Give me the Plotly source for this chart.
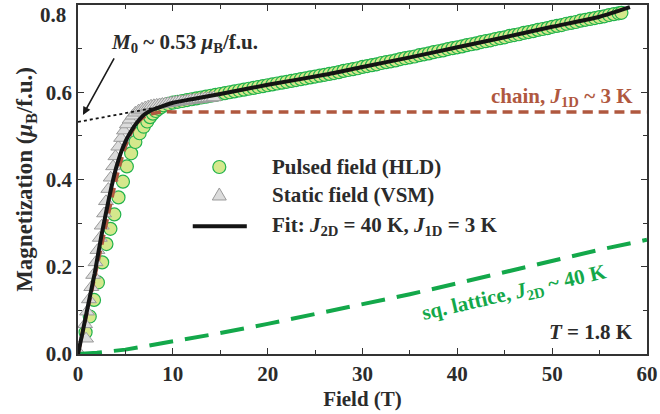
import plotly.graph_objects as go

# ---------------- data ----------------
pulsed_T = [0.8, 1.24, 1.69, 2.1, 2.55, 3.0, 3.42, 3.83, 4.27, 4.74, 5.15, 5.6, 6.05, 6.5, 6.93,
            7.3, 7.6, 7.9, 8.2, 8.5, 8.8,
            9.0, 9.5, 10.0, 10.5, 11.0, 11.5, 12.0, 12.5, 13.0, 13.5, 14.0, 14.5, 15.0, 15.5,
            16.0, 16.5, 17.0, 17.5, 18.0, 18.5, 19.0, 19.5, 20.0, 20.5, 21.0, 21.5, 22.0, 22.5,
            23.0, 23.5, 24.0, 24.5, 25.0, 25.5, 26.0, 26.5, 27.0, 27.5, 28.0, 28.5, 29.0, 29.5,
            30.0, 30.5, 31.0, 31.5, 32.0, 32.5, 33.0, 33.5, 34.0, 34.5, 35.0, 35.5, 36.0, 36.5,
            37.0, 37.5, 38.0, 38.5, 39.0, 39.5, 40.0, 40.5, 41.0, 41.5, 42.0, 42.5, 43.0, 43.5,
            44.0, 44.5, 45.0, 45.5, 46.0, 46.5, 47.0, 47.5, 48.0, 48.5, 49.0, 49.5, 50.0, 50.5,
            51.0, 51.5, 52.0, 52.5, 53.0, 53.5, 54.0, 54.5, 55.0, 55.5, 56.0, 56.5, 57.0, 57.3]
pulsed_M = [0.050, 0.086, 0.124, 0.164, 0.210, 0.252, 0.287, 0.320, 0.359, 0.395, 0.430, 0.460,
            0.486, 0.506, 0.521, 0.533, 0.543, 0.551, 0.557, 0.562, 0.566,
            0.570, 0.573, 0.576, 0.578, 0.580, 0.582, 0.584, 0.586, 0.588, 0.590, 0.592, 0.594,
            0.596, 0.598, 0.600, 0.602, 0.604, 0.606, 0.608, 0.610, 0.612, 0.614, 0.616, 0.618,
            0.620, 0.622, 0.624, 0.626, 0.628, 0.630, 0.632, 0.634, 0.636, 0.638, 0.640, 0.642,
            0.644, 0.646, 0.649, 0.651, 0.653, 0.655, 0.658, 0.660, 0.662, 0.664, 0.667, 0.669,
            0.671, 0.673, 0.676, 0.678, 0.680, 0.682, 0.685, 0.687, 0.689, 0.692, 0.694, 0.696,
            0.699, 0.701, 0.703, 0.705, 0.708, 0.710, 0.712, 0.715, 0.717, 0.719, 0.722, 0.724,
            0.726, 0.729, 0.731, 0.733, 0.736, 0.738, 0.740, 0.743, 0.745, 0.747, 0.750, 0.752,
            0.754, 0.757, 0.759, 0.761, 0.764, 0.766, 0.768, 0.770, 0.772, 0.774, 0.777, 0.779,
            0.781, 0.782]

static_T = [0.05, 0.85, 0.75, 0.95, 1.15, 1.4, 1.6, 1.85, 2.05, 2.3, 2.5, 2.75, 2.95, 3.2, 3.45,
            3.7, 3.95, 4.25, 4.55, 4.85, 5.15, 5.45, 5.75, 6.05, 6.4, 6.75, 7.1,
            7.4, 7.7, 8.0, 8.3, 8.6, 8.9, 9.2, 9.5, 9.8, 10.1, 10.4, 10.7, 11.0, 11.3, 11.6,
            11.9, 12.2, 12.5, 12.8, 13.1, 13.4, 13.7, 14.0, 14.3]
static_M = [0.005, 0.035, 0.068, 0.097, 0.125, 0.153, 0.181, 0.210, 0.238, 0.266, 0.294, 0.322,
            0.350, 0.378, 0.404, 0.430, 0.453, 0.475, 0.495, 0.512, 0.526, 0.537, 0.546, 0.553,
            0.558, 0.562, 0.565,
            0.567, 0.569, 0.570, 0.571, 0.572, 0.573, 0.574, 0.575, 0.576, 0.577, 0.578, 0.579,
            0.579, 0.580, 0.581, 0.582, 0.583, 0.583, 0.584, 0.585, 0.586, 0.586, 0.587, 0.588]

fit_T = [0, 0.5, 1.0, 1.76, 2.45, 3.31, 4.0, 4.5, 5.0, 5.5, 6.0, 6.5, 7.0, 7.5, 8.0, 9.0, 10.0,
         12.0, 15.0, 20.0, 26.0, 30.0, 35.0, 40.0, 45.0, 50.0, 55.0, 58.2]
fit_M = [0, 0.052, 0.105, 0.185, 0.269, 0.361, 0.425, 0.460, 0.487, 0.507, 0.524, 0.538, 0.549,
         0.556, 0.561, 0.569, 0.576, 0.584, 0.596, 0.617, 0.640, 0.658, 0.680, 0.703, 0.726,
         0.750, 0.773, 0.795]

chain_T = [0, 1.0, 2.0, 3.0, 4.0, 4.5, 5.0, 5.5, 6.0, 6.5, 7.0, 7.5, 8.0, 8.5, 9.0, 10.0, 60.0]
chain_M = [0, 0.100, 0.200, 0.300, 0.398, 0.440, 0.475, 0.502, 0.521, 0.535, 0.544, 0.549,
           0.552, 0.554, 0.555, 0.555, 0.555]

sq_T = [0, 2, 5, 10, 15, 20, 25, 30, 35, 40, 45, 50, 55, 60]
sq_M = [0, 0.003, 0.010, 0.028, 0.048, 0.069, 0.091, 0.113, 0.137, 0.162, 0.188, 0.214, 0.239, 0.262]

extrap_T = [0, 8.5]
extrap_M = [0.532, 0.566]

x_ticks = [0, 10, 20, 30, 40, 50, 60]
x_minor = [5, 15, 25, 35, 45, 55]
y_ticks = [0.0, 0.2, 0.4, 0.6, 0.8]
y_ticktext = ["0.0", "0.2", "0.4", "0.6", ""]
y_minor = [0.1, 0.3, 0.5, 0.7]

# ---------------- styling ----------------
FONT = "Liberation Serif"
DARK = "#2b2b2b"
GREEN = "#13a84a"
BROWN = "#b0583f"
FS = 21

fig = go.Figure()

fig.add_trace(go.Scatter(x=pulsed_T, y=pulsed_M, mode="markers", name="Pulsed field (HLD)",
                         marker=dict(symbol="circle", size=13, color="#d5e88c",
                                     line=dict(color="#22b34c", width=1.2))))
fig.add_trace(go.Scatter(x=static_T, y=static_M, mode="markers", name="Static field (VSM)",
                         marker=dict(symbol="triangle-up", size=13, color="#dcdcdc",
                                     line=dict(color="#9a9a9a", width=1))))
fig.add_trace(go.Scatter(x=sq_T, y=sq_M, mode="lines", name="sq. lattice",
                         line=dict(color=GREEN, width=4, dash="24px,12px")))
fig.add_trace(go.Scatter(x=chain_T, y=chain_M, mode="lines", name="chain",
                         line=dict(color=BROWN, width=3.5, dash="10px,6px", shape="spline",
                                   smoothing=0.6)))
fig.add_trace(go.Scatter(x=fit_T, y=fit_M, mode="lines", name="Fit",
                         line=dict(color="#141414", width=4, shape="spline", smoothing=0.6)))
fig.add_trace(go.Scatter(x=extrap_T, y=extrap_M, mode="lines", name="extrapolation",
                         line=dict(color="#141414", width=1.8, dash="dot")))

axis_common = dict(showline=True, linecolor="#333333", linewidth=1.5, mirror="ticks",
                   ticks="inside", ticklen=6, tickwidth=1.3, tickcolor="#333333",
                   showgrid=False, zeroline=False, ticklabeloverflow="allow",
                   tickfont=dict(family=FONT, size=FS, color=DARK, weight="bold"))

fig.update_layout(
    width=660, height=414,
    margin=dict(l=78, r=2, t=5, b=60),
    paper_bgcolor="white", plot_bgcolor="white",
    showlegend=False,
    xaxis=dict(range=[0, 60], tickmode="array", tickvals=x_ticks,
               minor=dict(tickmode="array", tickvals=x_minor, ticks="inside", ticklen=4,
                          tickwidth=1.2, tickcolor="#333333"),
               title=dict(text="Field (T)", standoff=6,
                          font=dict(family=FONT, size=FS, color=DARK, weight="bold")),
               **axis_common),
    yaxis=dict(range=[0, 0.8], tickmode="array", tickvals=y_ticks, ticktext=y_ticktext,
               minor=dict(tickmode="array", tickvals=y_minor, ticks="inside", ticklen=4,
                          tickwidth=1.2, tickcolor="#333333"),
               title=dict(text="Magnetization (<i>μ</i><sub>B</sub>/f.u.)", standoff=7,
                          font=dict(family=FONT, size=23, color=DARK, weight="bold")),
               **axis_common),
)

def txt(x, y, text, color=DARK, xanchor="center", angle=0, size=FS, yshift=0):
    fig.add_annotation(x=x, y=y, xref="x", yref="y", text=text, showarrow=False,
                       xanchor=xanchor, yanchor="middle", textangle=angle, yshift=yshift,
                       font=dict(family=FONT, size=size, color=color, weight="bold"))

# the 0.8 tick label sits slightly lower in the reference
fig.add_annotation(x=0, y=0.8, xref="paper", yref="y", text="0.8", showarrow=False,
                   xanchor="right", yanchor="middle", xshift=-10, yshift=-10,
                   font=dict(family=FONT, size=FS, color=DARK, weight="bold"))

txt(11.2, 0.713, "<i>M</i><sub>0</sub> ~ 0.53 <i>μ</i><sub>B</sub>/f.u.", size=21)
fig.add_annotation(x=0.52, y=0.548, xref="x", yref="y", text="", showarrow=True,
                   ax=32, ay=-58, arrowhead=2, arrowsize=1, arrowwidth=1.6,
                   arrowcolor="#1a1a1a")
txt(58.7, 0.589, "chain, <i>J</i><sub>1D</sub> ~ 3 K", color=BROWN, xanchor="right", size=21)
txt(46.0, 0.14, "sq. lattice, <i>J</i><sub>2D</sub> ~ 40 K", color=GREEN, angle=-13, size=21)
txt(58.7, 0.05, "<i>T</i> = 1.8 K", xanchor="right", size=21)

# legend (drawn manually to match the reference layout)
leg_x_sym = 14.9
leg_x_txt = 20.2
leg_rows = [0.4286, 0.3645, 0.293]
fig.add_shape(type="circle", xref="x", yref="y", xsizemode="pixel", ysizemode="pixel",
              xanchor=leg_x_sym, yanchor=leg_rows[0], x0=-6.5, x1=6.5, y0=-6.5, y1=6.5,
              fillcolor="#d5e88c", line=dict(color="#22b34c", width=1.2))
fig.add_shape(type="path", xref="x", yref="y", xsizemode="pixel", ysizemode="pixel",
              xanchor=leg_x_sym, yanchor=leg_rows[1], path="M-7,-5 L7,-5 L0,7 Z",
              fillcolor="#dcdcdc", line=dict(color="#9a9a9a", width=1))
fig.add_shape(type="line", xref="x", yref="y", x0=12.1, x1=17.8, y0=leg_rows[2], y1=leg_rows[2],
              line=dict(color="#141414", width=4))
txt(leg_x_txt, leg_rows[0], "Pulsed field (HLD)", xanchor="left")
txt(leg_x_txt, leg_rows[1], "Static field (VSM)", xanchor="left")
txt(leg_x_txt, leg_rows[2], "Fit: <i>J</i><sub>2D</sub> = 40 K, <i>J</i><sub>1D</sub> = 3 K",
    xanchor="left")

fig.write_html("out.html")
